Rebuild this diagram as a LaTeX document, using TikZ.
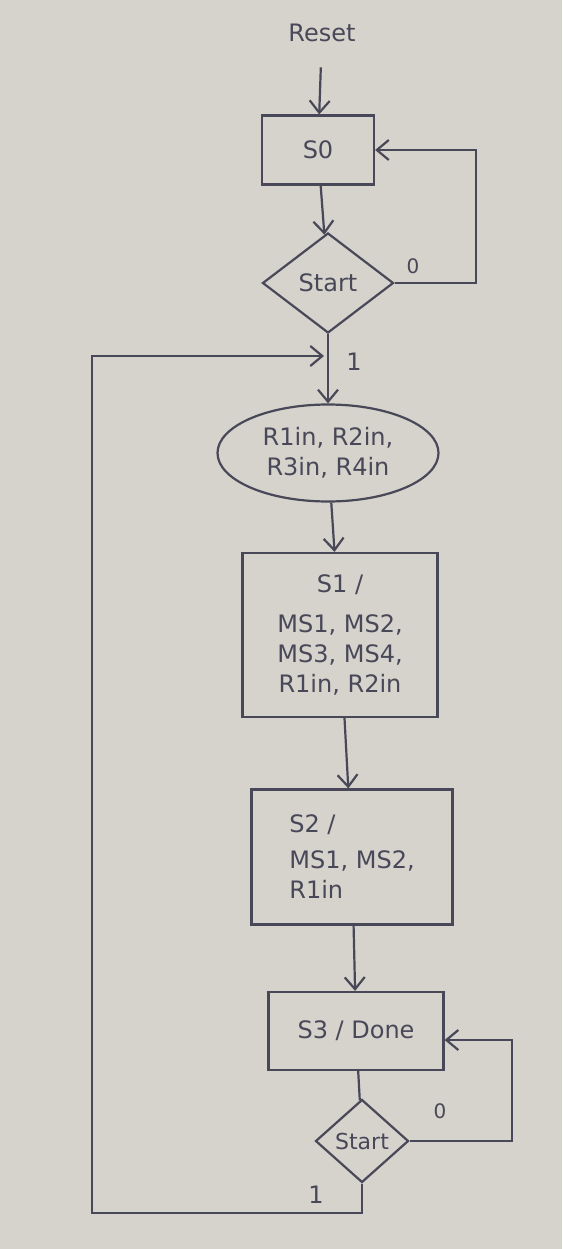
\documentclass[tikz,border=0pt]{standalone}
\usepackage{fontspec}
\setmainfont{DejaVu Sans}
\usetikzlibrary{shapes.geometric,arrows.meta}
\definecolor{paper}{RGB}{214,211,204}
\definecolor{ink}{RGB}{72,72,88}
\begin{document}
\begin{tikzpicture}[x=1pt,y=-1pt,
    >={Straight Barb[length=12pt,width=20pt]},
    font=\fontsize{24}{30}\selectfont, text=ink,
    statebox/.style={draw=ink, line width=2.2pt, rectangle, inner sep=0pt},
    choice/.style={draw=ink, line width=2.2pt, diamond, inner sep=0pt},
    link/.style={draw=ink, line width=2.2pt}]
      \fill[paper] (0,0) rectangle (562,1249);
      \useasboundingbox (0,0) rectangle (562,1249);

      \node (reset) at (322,33) {Reset};
      \node[statebox, minimum width=112pt, minimum height=69pt] (s0) at (318,150) {S0};
      \node[choice, minimum width=131pt, minimum height=100pt] (d1) at (328,283) {Start};
      \node[draw=ink, line width=2.2pt, ellipse, inner sep=0pt, minimum width=221pt,
            minimum height=97pt, align=center] (load) at (328,453) {R1in, R2in,\\R3in, R4in};
      \node[statebox, minimum width=195pt, minimum height=164pt, align=center] (s1) at (340,635)
            {S1 /\\[10pt]MS1, MS2,\\MS3, MS4,\\R1in, R2in};
      \node[statebox, minimum width=201pt, minimum height=135pt, align=left] (s2) at (352,857)
            {S2 /\\[6pt]MS1, MS2,\\R1in\hspace{2em}};
      \node[statebox, minimum width=175pt, minimum height=78pt] (s3) at (356,1031) {S3 / Done};
      \node[choice, minimum width=93pt, minimum height=83pt,
            font=\fontsize{22}{26}\selectfont] (d2) at (362,1141) {Start};

      \node[font=\fontsize{20}{24}\selectfont] (zero1) at (413,266) {0};
      \node (one1) at (354,362) {1};
      \node[font=\fontsize{20}{24}\selectfont] (zero2) at (440,1111) {0};
      \node (one2) at (316,1195) {1};

      \coordinate (r0) at (476,150);
      \coordinate (r3) at (512,1040);
      \coordinate (bl) at (92,1213);
      \coordinate (tl) at (92,356);

      \draw[link,->, shorten <=22pt] (reset) -- (s0);
      \draw[link,->] (s0) -- (d1);
      \draw[link,->] (d1.east) -| (r0) -- (s0.east);
      \draw[link,->] (d1) -- (load);
      \draw[link,->] (load) -- (s1);
      \draw[link,->] (s1) -- (s2);
      \draw[link,->] (s2) -- (s3);
      \draw[link] (s3) -- (d2);
      \draw[link,->] (d2.east) -| (r3) -- (r3 -| s3.east);
      \draw[link,->, shorten >=4pt] (d2.south) |- (bl) -- (tl) -- (tl -| d1.south);
\end{tikzpicture}
\end{document}
